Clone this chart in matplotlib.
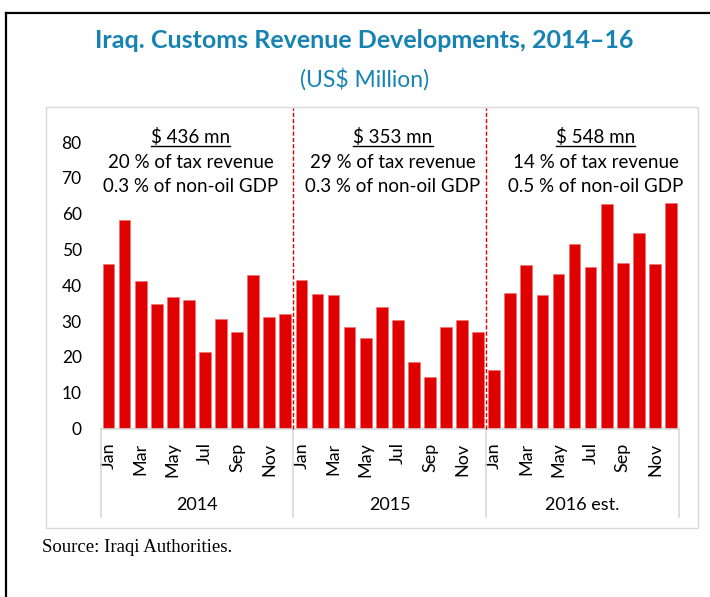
import matplotlib
matplotlib.use("Agg")
import matplotlib.pyplot as plt
from matplotlib.patches import Rectangle
from matplotlib.lines import Line2D
import matplotlib.transforms as mtransforms

# ---- data ----
months = ["Jan", "Feb", "Mar", "Apr", "May", "Jun",
          "Jul", "Aug", "Sep", "Oct", "Nov", "Dec"]
years = ["2014", "2015", "2016 est."]
rev_2014 = [45.9, 58.3, 41.1, 34.9, 36.7, 36.0, 21.3, 30.5, 26.9, 42.8, 31.1, 32.1]
rev_2015 = [41.5, 37.6, 37.2, 28.4, 25.2, 33.9, 30.4, 18.5, 14.5, 28.4, 30.4, 26.9]
rev_2016 = [16.4, 37.9, 45.6, 37.2, 43.2, 51.5, 45.1, 62.6, 46.3, 54.6, 45.9, 63.1]
totals = ["$ 436 mn", "$ 353 mn", "$ 548 mn"]
tax_share = ["20 % of tax revenue", "29 % of tax revenue", "14 % of tax revenue"]
gdp_share = ["0.3 % of non-oil GDP", "0.3 % of non-oil GDP", "0.5 % of non-oil GDP"]
title = "Iraq. Customs Revenue Developments, 2014\u201316"
subtitle = "(US$ Million)"
source = "Source: Iraqi Authorities."

values = rev_2014 + rev_2015 + rev_2016
labels = [m for _ in years for m in months]

W, H = 710, 597
fig = plt.figure(figsize=(W / 100, H / 100), dpi=100)
FONT = "Lato"
TEAL = "#1683b3"
GRAY = "#d9d9d9"

def fx(px):
    return px / W

def fy(py):
    return 1 - py / H

# frames
fig.add_artist(Line2D([fx(6), fx(6)], [fy(13), 0], color="black", lw=1.6))
fig.add_artist(Line2D([fx(6), 1], [fy(13), fy(13)], color="black", lw=1.6))
fig.add_artist(Rectangle((fx(46), fy(528)), fx(698) - fx(46), fy(107) - fy(528),
                         transform=fig.transFigure, fill=False, ec=GRAY, lw=1.0))

# axes
ax_l, ax_r, ax_t, ax_b = 100.5, 679.0, 108.0, 428.5
ax = fig.add_axes([fx(ax_l), fy(ax_b), fx(ax_r) - fx(ax_l), fy(ax_t) - fy(ax_b)])
x = list(range(len(values)))
ax.bar(x, values, width=0.73, color="#e00000", edgecolor="#f07070", linewidth=0.4, zorder=2)
ax.set_xlim(-0.5, len(values) - 0.5)
ax.set_ylim(0, 89.5)
ax.set_yticks(range(0, 81, 10))
ax.tick_params(axis="y", length=0, pad=13.5, labelsize=12.5)
for t in ax.get_yticklabels():
    t.set_fontfamily(FONT)
ax.set_xticks(x[::2])
ax.set_xticklabels(labels[::2], rotation=90, fontsize=13, fontfamily=FONT)
ax.tick_params(axis="x", length=0, pad=10)
for s in ["top", "right", "left"]:
    ax.spines[s].set_visible(False)
ax.spines["bottom"].set_color(GRAY)
ax.spines["bottom"].set_linewidth(1.2)

trans = mtransforms.blended_transform_factory(ax.transData, ax.transAxes)
sep_bottom = (ax_b - 517) / (ax_b - ax_t)
for k in range(len(years) + 1):
    xb = k * 12 - 0.5
    ax.add_line(Line2D([xb, xb], [0, sep_bottom], transform=trans, color=GRAY,
                       lw=1.2, clip_on=False))
    if 0 < k < len(years):
        ax.add_line(Line2D([xb, xb], [0, 1], transform=trans, color="#e00000",
                           lw=1.0, ls=(0, (3, 1.5)), clip_on=False, zorder=3))

year_y = (ax_b - 505) / (ax_b - ax_t)
ann_x = [5.1, 17.7, 30.3]
for k, yr in enumerate(years):
    ax.text(k * 12 + 5.5, year_y, yr, transform=trans, ha="center", va="center",
            fontsize=13, fontfamily=FONT)
    ax.text(ann_x[k], (ax_b - 137) / (ax_b - ax_t), totals[k], transform=trans,
            ha="center", va="center", fontsize=13.5, fontfamily=FONT)
    ax.text(ann_x[k], (ax_b - 162) / (ax_b - ax_t), tax_share[k], transform=trans,
            ha="center", va="center", fontsize=13.5, fontfamily=FONT)
    ax.text(ann_x[k], (ax_b - 186) / (ax_b - ax_t), gdp_share[k], transform=trans,
            ha="center", va="center", fontsize=13.5, fontfamily=FONT)

# underline totals
fig.canvas.draw()
renderer = fig.canvas.get_renderer()
for t in ax.texts:
    if t.get_text() in totals:
        bb = t.get_window_extent(renderer)
        yl = fy(146)
        fig.add_artist(Line2D([bb.x0 / W, bb.x1 / W], [yl, yl], color="black", lw=1.0))

fig.text(0.513, fy(40), title, ha="center", va="center", fontsize=18,
         fontweight="bold", color=TEAL, fontfamily=FONT)
fig.text(0.513, fy(79), subtitle, ha="center", va="center", fontsize=16.5,
         color=TEAL, fontfamily=FONT)
fig.text(fx(42), fy(548), source, ha="left", va="center", fontsize=13.5,
         fontfamily="Liberation Serif")

fig.savefig("out.png", dpi=100)
